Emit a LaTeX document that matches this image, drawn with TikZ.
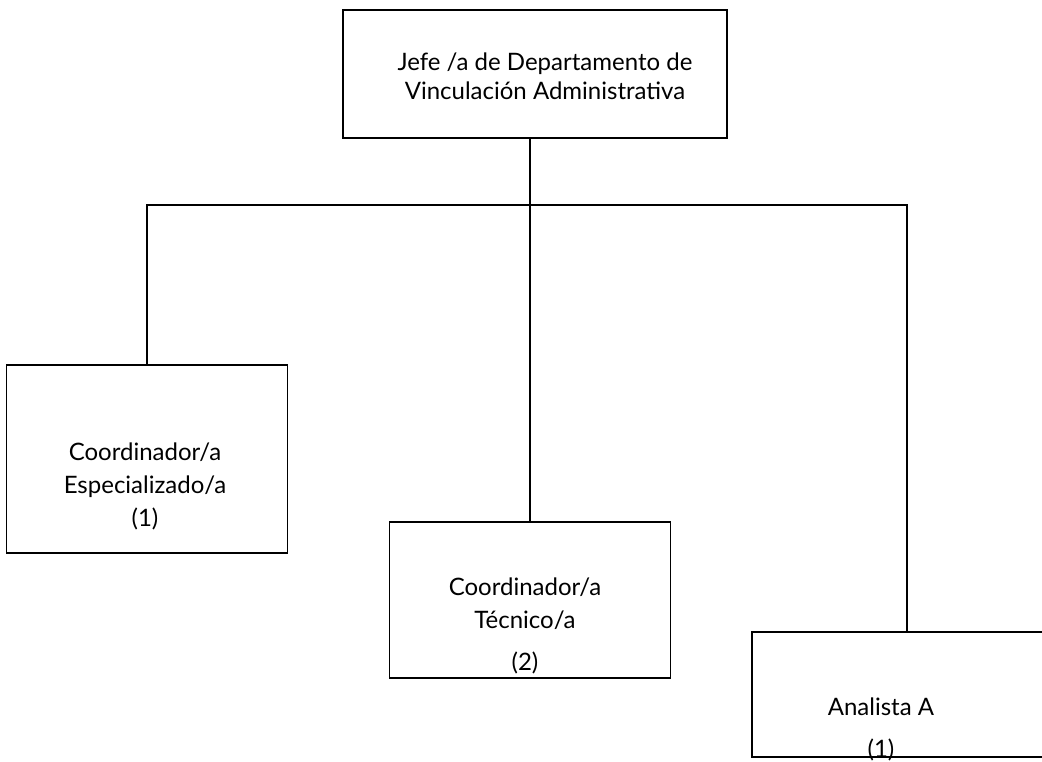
\documentclass[tikz,border=0pt]{standalone}
\usepackage{fontspec}
\setmainfont{Lato}
\usetikzlibrary{positioning}

\begin{document}
\begin{tikzpicture}[
    x=1pt, y=-1pt,
    box/.style={draw, line width=1.6pt, minimum width=281pt, inner sep=0pt},
    lbl/.style={align=center, inner sep=0pt, font=\fontsize{24}{33}\selectfont},
    link/.style={line width=1.6pt}
]
\useasboundingbox (0,0) rectangle (1042,761);
\clip (0,0) rectangle (1042,761);
% boxes
\node[box, minimum width=384pt, minimum height=128pt] (jefe) at (535,74) {};
\node[box, minimum height=188pt] (coordesp) at (147,459) {};
\node[box, minimum height=156pt] (coordtec) at (530,600) {};
\node[box, minimum width=310pt, minimum height=125pt] (analista) at (907,694.5) {};
% texts
\node[lbl, font=\fontsize{24}{29}\selectfont] (jefetxt) at (545,76) {Jefe /a de Departamento de\\Vinculación Administrativa};
\node[lbl] (coordesptxt) at (145,486) {Coordinador/a\\Especializado/a\\(1)};
\node[lbl] (coordtectxt) at (525,626) {Coordinador/a\\Técnico/a\\[9pt](2)};
\node[lbl] (analistatxt) at (881,729) {Analista A\\[9pt](1)};
% lines
\coordinate (bus) at (530,205);
\draw[link] ([xshift=-5pt]jefe.south) -- (bus);
\draw[link] (bus) -| (coordesp.north);
\draw[link] (bus) -- (coordtec.north);
\draw[link] (bus) -| (analista.north);
\end{tikzpicture}
\end{document}
